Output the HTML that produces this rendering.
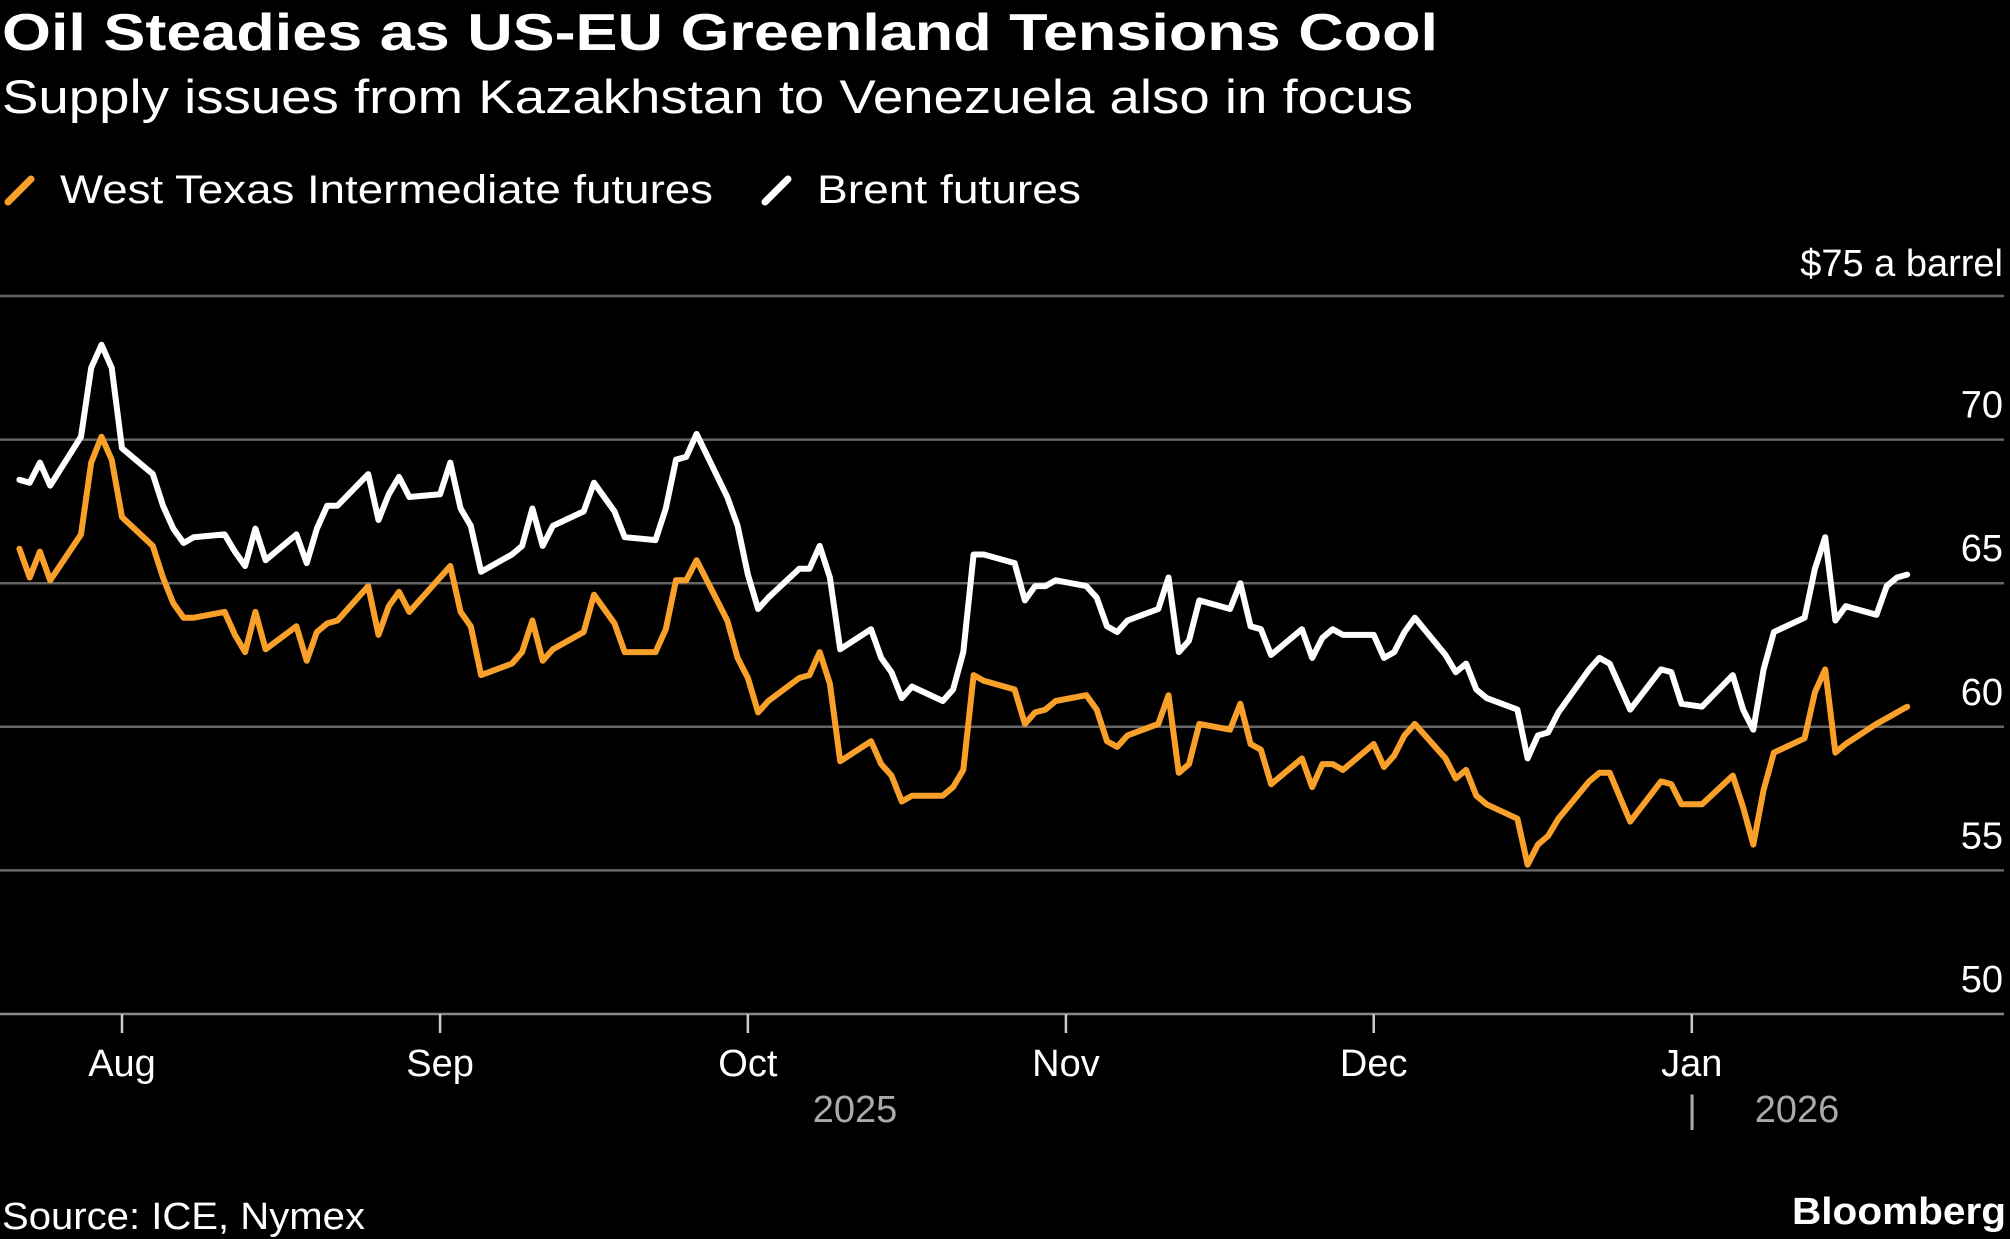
<!DOCTYPE html>
<html><head><meta charset="utf-8"><style>
html,body{margin:0;padding:0;background:#000;}
svg{display:block;font-family:"Liberation Sans",sans-serif;}
</style></head><body>
<svg id="chart" width="2010" height="1239" viewBox="0 0 2010 1239">
<rect width="2010" height="1239" fill="#000"/>
<text x="2" y="50" fill="#fff" font-size="52" font-weight="bold" textLength="1436" lengthAdjust="spacingAndGlyphs">Oil Steadies as US-EU Greenland Tensions Cool</text>
<text x="2" y="113" fill="#fff" font-size="47" textLength="1411" lengthAdjust="spacingAndGlyphs">Supply issues from Kazakhstan to Venezuela also in focus</text>
<g>
<g>
<line x1="8" y1="202" x2="31" y2="179" stroke="#f9a02a" stroke-width="7" stroke-linecap="round"/>
<text x="60" y="203" fill="#fff" font-size="40" textLength="653" lengthAdjust="spacingAndGlyphs">West Texas Intermediate futures</text>
</g>
<g>
<line x1="765" y1="202" x2="788" y2="179" stroke="#fff" stroke-width="7" stroke-linecap="round"/>
<text x="817" y="203" fill="#fff" font-size="40" textLength="264" lengthAdjust="spacingAndGlyphs">Brent futures</text>
</g>
</g>
<g id="grid"></g>
<g id="yaxis"></g>
<g id="xaxis"></g>
<g id="series"></g>
<text x="855" y="1122" fill="#aaa" font-size="38" text-anchor="middle">2025</text>
<text x="1692" y="1122" fill="#aaa" font-size="38" text-anchor="middle">|</text>
<text x="1797" y="1122" fill="#aaa" font-size="38" text-anchor="middle">2026</text>
<text x="2" y="1229" fill="#fff" font-size="38" textLength="363" lengthAdjust="spacingAndGlyphs">Source: ICE, Nymex</text>
<text x="1792" y="1224" fill="#fff" font-size="38" font-weight="bold" textLength="214" lengthAdjust="spacingAndGlyphs">Bloomberg</text>
</svg>
<script>
// day offsets from Aug 1, 2025
const days = [-10,-9,-8,-7,-4,-3,-2,-1,0,3,4,5,6,7,10,11,12,13,14,17,18,19,20,21,24,25,26,27,28,31,32,33,34,35,38,39,40,41,42,45,46,48,49,52,53,54,55,56,59,60,61,62,63,66,67,68,69,70,73,74,75,76,77,80,81,82,83,84,87,88,89,90,91,94,95,96,97,98,101,102,103,104,105,108,109,110,111,112,115,116,117,118,119,122,123,124,125,126,129,130,131,132,133,136,137,138,139,140,143,144,145,147,150,151,152,154,157,158,159,160,161,164,165,166,167,168,171,172,173,174];
const brent = [68.6,68.5,69.2,68.4,70.1,72.5,73.3,72.5,69.7,68.8,67.7,66.9,66.4,66.6,66.7,66.1,65.6,66.9,65.8,66.7,65.7,66.9,67.7,67.7,68.8,67.2,68.1,68.7,68.0,68.1,69.2,67.6,67.0,65.4,66.0,66.3,67.6,66.3,67.0,67.5,68.5,67.5,66.6,66.5,67.6,69.3,69.4,70.2,68.0,67.0,65.3,64.1,64.5,65.5,65.5,66.3,65.2,62.7,63.4,62.4,61.9,61.0,61.4,60.9,61.3,62.6,66.0,66.0,65.7,64.4,64.9,64.9,65.1,64.9,64.5,63.5,63.3,63.7,64.1,65.2,62.6,63.0,64.4,64.1,65.0,63.5,63.4,62.5,63.4,62.4,63.1,63.4,63.2,63.2,62.4,62.6,63.3,63.8,62.5,61.9,62.2,61.3,61.0,60.6,58.9,59.7,59.8,60.5,62.0,62.4,62.2,60.6,62.0,61.9,60.8,60.7,61.8,60.6,59.9,62.0,63.3,63.8,65.5,66.6,63.7,64.2,63.9,64.9,65.2,65.3];
const wti = [66.2,65.2,66.1,65.1,66.7,69.2,70.1,69.3,67.3,66.3,65.2,64.3,63.8,63.8,64.0,63.2,62.6,64.0,62.7,63.5,62.3,63.3,63.6,63.7,64.9,63.2,64.2,64.7,64.0,65.2,65.6,64.0,63.5,61.8,62.2,62.6,63.7,62.3,62.7,63.3,64.6,63.6,62.6,62.6,63.4,65.1,65.1,65.8,63.7,62.4,61.7,60.5,60.9,61.7,61.8,62.6,61.5,58.8,59.5,58.7,58.3,57.4,57.6,57.6,57.9,58.5,61.8,61.6,61.3,60.1,60.5,60.6,60.9,61.1,60.6,59.5,59.3,59.7,60.1,61.1,58.4,58.7,60.1,59.9,60.8,59.4,59.2,58.0,58.9,57.9,58.7,58.7,58.5,59.4,58.6,59.0,59.7,60.1,58.9,58.2,58.5,57.6,57.3,56.8,55.2,55.9,56.2,56.8,58.1,58.4,58.4,56.7,58.1,58.0,57.3,57.3,58.3,57.2,55.9,57.8,59.1,59.6,61.2,62.0,59.1,59.4,60.1,60.3,60.5,60.7];
const yTicks = [50,55,60,65,70,75];
const yTickLabels = ["50","55","60","65","70","$75 a barrel"];
const monthDays = [0,31,61,92,122,153];
const monthLabels = ["Aug","Sep","Oct","Nov","Dec","Jan"];

const NS = "http://www.w3.org/2000/svg";
function x(d){ return 122 + d*10.26; }
function y(v){ return 1014 - (v-50)*28.72; }
function mk(tag, attrs, parent){ const e=document.createElementNS(NS,tag); for(const k in attrs) e.setAttribute(k,attrs[k]); parent.appendChild(e); return e; }
const grid=document.getElementById('grid'), ya=document.getElementById('yaxis'), xa=document.getElementById('xaxis'), ser=document.getElementById('series');
yTicks.forEach((t,i)=>{
  const l=mk('line',{x1:0,x2:2004,y1:y(t),y2:y(t),stroke:t===50?'#888':'#666','stroke-width':2.5},grid);
  
  
  const tx=mk('text',{x:2003,y:y(t)-(t===75?35:37)+15,fill:'#fff','font-size':38,'text-anchor':'end'},ya);
  tx.textContent=yTickLabels[i];
  
  
});
monthDays.forEach((d,i)=>{
  const tk=mk('line',{x1:x(d),x2:x(d),y1:1014,y2:1033,stroke:'#ccc','stroke-width':2.5},xa);
  
  
  const tx=mk('text',{x:x(d),y:1076,fill:'#fff','font-size':38,'text-anchor':'middle'},xa);
  tx.textContent=monthLabels[i];
  
  
});
function line(vals,color,name){
  const p=days.map((d,i)=>(i?'L':'M')+x(d).toFixed(1)+','+y(vals[i]).toFixed(1)).join('');
  const e=mk('path',{d:p,fill:'none',stroke:color,'stroke-width':6,'stroke-linejoin':'round','stroke-linecap':'round'},ser);
  
  
}
line(wti,'#f9a02a','wti-line');
line(brent,'#ffffff','brent-line');
</script>
</body></html>
